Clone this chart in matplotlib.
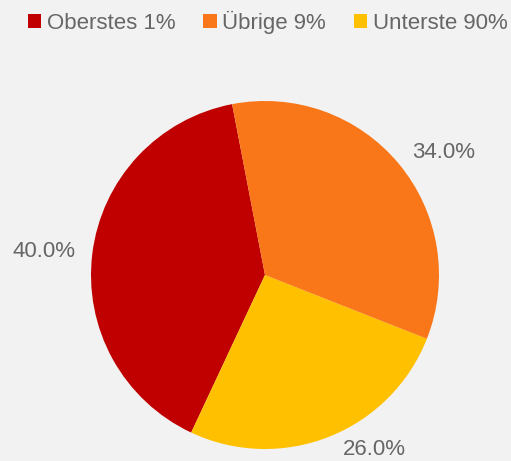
import matplotlib.pyplot as plt

plt.rcParams['font.family'] = ['Liberation Sans', 'DejaVu Sans']

categories = ['Oberstes 1%', 'Übrige 9%', 'Unterste 90%']
shares = [40.0, 34.0, 26.0]
colors = ['#c00000', '#f97619', '#ffc000']

# slices go counterclockwise: Oberstes 1%, Unterste 90%, Übrige 9%
order = [0, 2, 1]
pie_vals = [shares[i] for i in order]
pie_cols = [colors[i] for i in order]
pie_labels = ['%.1f%%' % v for v in pie_vals]

fig = plt.figure(figsize=(5.11, 4.61), dpi=100, facecolor='#f2f2f2')
# pie area: center ~ (265, 275) px, radius ~174 px
ax = fig.add_axes([(265 - 174) / 511, (461 - 275 - 174) / 461, 348 / 511, 348 / 461])
ax.set_facecolor('#f2f2f2')

wedges, texts = ax.pie(pie_vals, labels=pie_labels, colors=pie_cols, startangle=100.9,
                       counterclock=True, labeldistance=1.1,
                       textprops={'color': '#666666', 'fontsize': 16})
# nudge the bottom label a little right/up like the reference
x, y = texts[1].get_position()
texts[1].set_position((x + 0.04, y + 0.02))
ax.set_xlim(-1, 1)
ax.set_ylim(-1, 1)
ax.set_aspect('equal')
ax.axis('off')

handles = [wedges[order.index(i)] for i in range(3)]
leg = fig.legend(handles, categories, loc='upper left', bbox_to_anchor=(28 / 511, 1 - 11 / 461),
                 ncol=3, frameon=False, handlelength=0.6, handleheight=0.6,
                 handletextpad=0.25, columnspacing=1.25, fontsize=16,
                 borderpad=0, borderaxespad=0)
for t in leg.get_texts():
    t.set_color('#666666')

fig.savefig('out.png', dpi=100, facecolor=fig.get_facecolor())
